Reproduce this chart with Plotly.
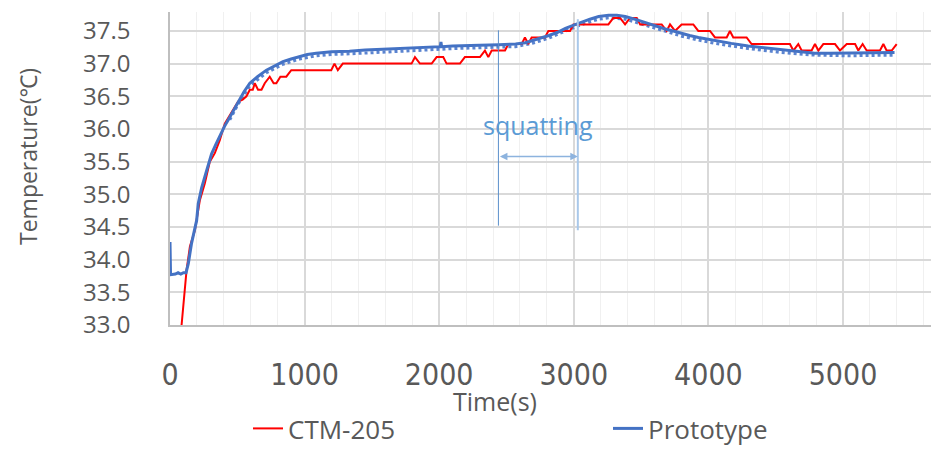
import plotly.graph_objects as go

# ---------------- data ----------------
proto_time = [0, 4, 40, 60, 80, 100, 119, 136, 160, 185, 198, 210, 235, 259, 285, 309, 340, 370,
              405, 444, 475, 506, 550, 593, 650, 716, 780, 839, 900, 963, 1020, 1086, 1200, 1333,
              1450, 1580, 1700, 1827, 1950, 2008, 2013, 2018, 2100, 2198, 2300, 2444, 2568, 2640,
              2691, 2750, 2815, 2880, 2938, 3000, 3062, 3120, 3185, 3259, 3320, 3383, 3470, 3556,
              3620, 3679, 3740, 3802, 3860, 3926, 4000, 4049, 4170, 4296, 4420, 4543, 4667, 4790,
              4900, 5037, 5200, 5383]
proto_temp = [34.27, 33.77, 33.78, 33.80, 33.78, 33.80, 33.80, 33.94, 34.25, 34.45, 34.60, 34.86,
              35.10, 35.27, 35.45, 35.62, 35.76, 35.90, 36.04, 36.18, 36.30, 36.42, 36.57, 36.70,
              36.80, 36.90, 36.97, 37.03, 37.07, 37.11, 37.14, 37.16, 37.18, 37.19, 37.21, 37.22,
              37.23, 37.24, 37.25, 37.26, 37.33, 37.26, 37.27, 37.27, 37.28, 37.29, 37.30, 37.32,
              37.35, 37.39, 37.43, 37.48, 37.54, 37.59, 37.64, 37.68, 37.72, 37.74, 37.74, 37.72,
              37.67, 37.61, 37.57, 37.53, 37.50, 37.46, 37.43, 37.40, 37.37, 37.35, 37.31, 37.27,
              37.24, 37.21, 37.18, 37.16, 37.16, 37.16, 37.16, 37.17]

trend_time = [444, 506, 593, 716, 839, 963, 1086, 1200, 1333, 1580, 1827, 2100, 2300, 2444, 2568,
              2691, 2815, 2938, 3062, 3185, 3259, 3383, 3556, 3679, 3802, 3926, 4049, 4296, 4543,
              4790, 5037, 5383]
trend_temp = [36.14, 36.38, 36.66, 36.86, 36.99, 37.07, 37.12, 37.14, 37.15, 37.18, 37.20, 37.23,
              37.24, 37.25, 37.26, 37.31, 37.39, 37.50, 37.60, 37.68, 37.70, 37.68, 37.57, 37.49,
              37.42, 37.36, 37.31, 37.23, 37.17, 37.13, 37.12, 37.13]

ctm_time = [60, 86, 123, 148, 185, 222, 259, 296, 333, 370, 407, 440, 469, 506, 540, 568, 593, 615,
            630, 654, 680, 704, 741, 770, 790, 820, 864, 901, 1198, 1222, 1247, 1284, 1795, 1820,
            1857, 1944, 1981, 2030, 2055, 2154, 2191, 2303, 2340, 2365, 2390, 2489, 2514, 2613,
            2637, 2662, 2687, 2786, 2811, 2972, 2997, 3257, 3294, 3344, 3381, 3418, 3468, 3493,
            3653, 3690, 3715, 3752, 3801, 3888, 3925, 4012, 4049, 4136, 4160, 4185, 4284, 4321,
            4606, 4631, 4668, 4693, 4767, 4792, 4817, 4854, 4941, 4978, 5028, 5090, 5114, 5146,
            5176, 5275, 5300, 5324, 5362, 5399]
ctm_temp = [32.5, 33.0, 33.84, 34.2, 34.45, 34.91, 35.17, 35.5, 35.63, 35.83, 36.08, 36.2, 36.29,
            36.42, 36.45, 36.5, 36.6, 36.6, 36.7, 36.6, 36.6, 36.7, 36.8, 36.7, 36.7, 36.8, 36.8,
            36.9, 36.9, 37.0, 36.9, 37.0, 37.0, 37.1, 37.0, 37.0, 37.1, 37.1, 37.0, 37.0, 37.1,
            37.1, 37.2, 37.1, 37.2, 37.2, 37.3, 37.3, 37.4, 37.3, 37.4, 37.4, 37.5, 37.5, 37.6,
            37.6, 37.7, 37.7, 37.6, 37.7, 37.7, 37.6, 37.6, 37.5, 37.6, 37.5, 37.6, 37.6, 37.5,
            37.5, 37.4, 37.4, 37.5, 37.4, 37.4, 37.3, 37.3, 37.2, 37.3, 37.2, 37.2, 37.3, 37.2,
            37.3, 37.3, 37.2, 37.3, 37.3, 37.2, 37.3, 37.2, 37.2, 37.3, 37.2, 37.2, 37.3]

y_ticks = [33.0, 33.5, 34.0, 34.5, 35.0, 35.5, 36.0, 36.5, 37.0, 37.5]
x_ticks = [0, 1000, 2000, 3000, 4000, 5000]

squat_start = 2440
squat_end = 3030

# ---------------- figure ----------------
GRAY = "#595959"
TXT = "Open Sans, Noto Sans, sans-serif"
NARROW = "Liberation Sans Narrow, Arial Narrow, DejaVu Sans Condensed, sans-serif"

fig = go.Figure()
fig.add_trace(go.Scatter(x=trend_time, y=trend_temp, mode="lines", showlegend=False,
                         hoverinfo="skip",
                         line=dict(color="#5B84D0", width=3, dash="dot")))
fig.add_trace(go.Scatter(x=ctm_time, y=ctm_temp, mode="lines", name="CTM-205",
                         legend="legend",
                         line=dict(color="#FF0000", width=2)))
fig.add_trace(go.Scatter(x=proto_time, y=proto_temp, mode="lines", name="Prototype",
                         legend="legend2",
                         line=dict(color="#4472C4", width=3)))

# squatting markers
fig.add_shape(type="line", x0=squat_start, x1=squat_start, y0=34.52, y1=37.51,
              xref="x", yref="y", line=dict(color="#5B8FCB", width=1))
fig.add_shape(type="line", x0=squat_end, x1=squat_end, y0=34.45, y1=37.68,
              xref="x", yref="y", line=dict(color="#A9C8EA", width=2))
fig.add_annotation(x=squat_end, y=35.58, ax=squat_start, ay=35.58, xref="x", yref="y",
                   axref="x", ayref="y", text="", showarrow=True, arrowhead=2,
                   arrowside="end+start", arrowsize=1, arrowwidth=1.5, arrowcolor="#8DB3DE",
                   startarrowhead=2, startarrowsize=1)
fig.add_annotation(x=(squat_start + squat_end) / 2, y=36.06, xref="x", yref="y",
                   text="squatting", showarrow=False,
                   font=dict(family=TXT, size=25, color="#5B9BD5"))

# axis titles as annotations
fig.add_annotation(x=(495 - 170) / 761, y=(325 - 401) / 313, xref="paper", yref="paper",
                   text="Time(s)", showarrow=False, xanchor="center", yanchor="middle",
                   font=dict(family=TXT, size=25, color=GRAY))
fig.add_annotation(x=-(170 - 28) / 761, y=(325 - 157) / 313, xref="paper", yref="paper",
                   text="Temperature(℃)", showarrow=False, textangle=-90,
                   xanchor="center", yanchor="middle",
                   font=dict(family=TXT, size=23, color=GRAY))

legend_common = dict(orientation="h", xanchor="left", yanchor="bottom",
                     y=-(452 - 325) / 313,
                     font=dict(family=TXT, size=26, color=GRAY),
                     itemwidth=30, bgcolor="rgba(0,0,0,0)")

fig.update_layout(
    width=931, height=452,
    margin=dict(l=170, r=0, t=12, b=127),
    paper_bgcolor="white", plot_bgcolor="white",
    showlegend=True,
    legend=dict(x=(248 - 170) / 761, **legend_common),
    legend2=dict(x=(608 - 170) / 761, **legend_common),
    xaxis=dict(range=[0, 5654], tickvals=x_ticks, ticktext=[str(v) for v in x_ticks],
               showgrid=True, gridcolor="#D9D9D9", gridwidth=1.5,
               minor=dict(dtick=200, tick0=0, showgrid=True, gridcolor="#F0F0F0", gridwidth=1),
               showline=True, linecolor="#BFBFBF", linewidth=1.5, zeroline=False,
               ticks="", ticklabelstandoff=22,
               tickfont=dict(family=NARROW, size=30, color=GRAY)),
    yaxis=dict(range=[33.0, 37.79], tickvals=y_ticks, tickformat=".1f",
               showgrid=True, gridcolor="#D9D9D9", gridwidth=1.5,
               showline=True, linecolor="#BFBFBF", linewidth=1.5, zeroline=False,
               ticks="", ticklabelstandoff=33,
               tickfont=dict(family=TXT, size=24, color=GRAY)),
)

fig.write_html("out.html")
